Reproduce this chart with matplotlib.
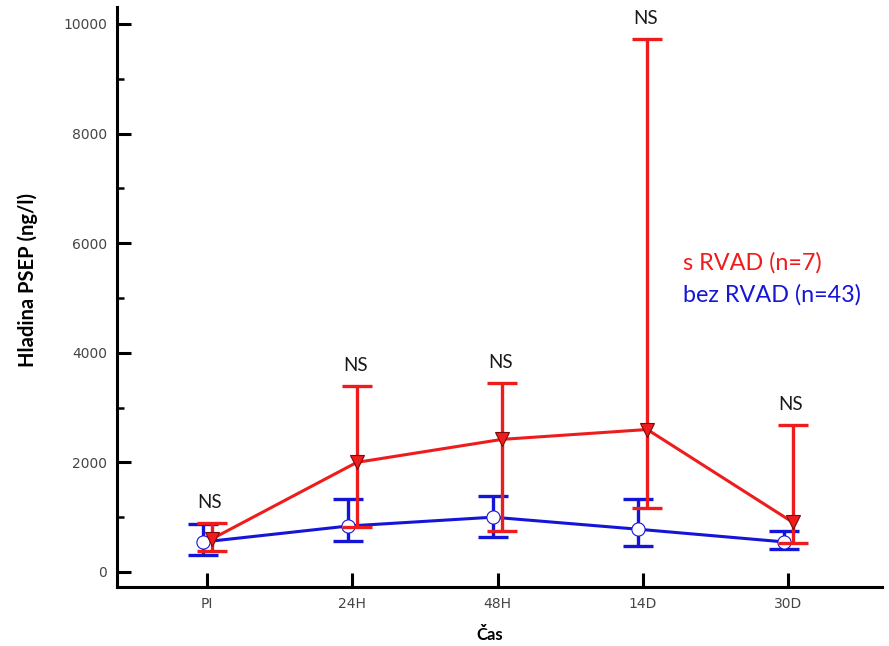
import matplotlib
matplotlib.use("Agg")
import matplotlib.pyplot as plt
import numpy as np

categories = ["PI", "24H", "48H", "14D", "30D"]

# s RVAD (n=7)
red_mean = [600, 2000, 2420, 2600, 910]
red_hi = [893, 3400, 3440, 9727, 2690]
red_lo = [383, 820, 750, 1160, 530]

# bez RVAD (n=43)
blue_mean = [546, 838, 1000, 780, 550]
blue_hi = [874, 1330, 1380, 1330, 750]
blue_lo = [310, 565, 640, 470, 420]

ns_labels = ["NS", "NS", "NS", "NS", "NS"]
legend_labels = ["s RVAD (n=7)", "bez RVAD (n=43)"]
y_ticks = [0, 2000, 4000, 6000, 8000, 10000]

RED = "#ee1c1c"
BLUE = "#1515d8"

fig = plt.figure(figsize=(8.89, 6.46), dpi=100)
ax = fig.add_axes([117/889, 1-587/646, (882-117)/889, (587-7)/646])

x = np.arange(len(categories))
off = 0.031
xb = x - off
xr = x + off

bm = np.array(blue_mean); rm = np.array(red_mean)
b_err = [bm - np.array(blue_lo), np.array(blue_hi) - bm]
r_err = [rm - np.array(red_lo), np.array(red_hi) - rm]

eb_b = ax.errorbar(xb, bm, yerr=b_err, color=BLUE, lw=2.2, elinewidth=2.4,
                   capsize=10.5, marker='o', markersize=9.5,
                   markerfacecolor='white', markeredgecolor=BLUE, markeredgewidth=0.8,
                   zorder=3)
eb_r = ax.errorbar(xr, rm, yerr=r_err, color=RED, lw=2.2, elinewidth=2.4,
                   capsize=10.5, marker='v', markersize=10,
                   markerfacecolor=RED, markeredgecolor="#7a0a0a", markeredgewidth=0.8,
                   zorder=4)
for eb in (eb_b, eb_r):
    for cap in eb[1]:
        cap.set_markeredgewidth(2.4)

for xi, top, lab in zip(x, red_hi, ns_labels):
    ax.text(xi + 0.02, top + 375, lab, ha='center', va='center',
            fontsize=13.5, color='#1a1a1a', family='Lato')

fig.text(683/889, 1-263/646, legend_labels[0], color=RED, fontsize=16.8,
         family='Lato', ha='left', va='center')
fig.text(683/889, 1-295/646, legend_labels[1], color=BLUE, fontsize=16.8,
         family='Lato', ha='left', va='center')

ax.set_xlim(-0.62, 4.647)
ax.set_ylim(-274, 10310)
ax.set_xticks(x)
ax.set_xticklabels(categories)
ax.set_yticks(y_ticks)
ax.set_yticklabels([str(v) for v in y_ticks])
ax.set_yticks(np.arange(1000, 10000, 2000), minor=True)

for s in ["top", "right"]:
    ax.spines[s].set_visible(False)
for s in ["left", "bottom"]:
    ax.spines[s].set_linewidth(2.2)

ax.tick_params(axis='both', which='major', direction='in', length=10, width=2.2,
               labelsize=10, labelcolor='#454545', pad=7)
ax.tick_params(axis='y', which='minor', direction='in', length=5, width=1.8)

fig.text(28/889, 1-280/646, "Hladina PSEP (ng/l)", rotation=90, fontsize=14.5,
         fontweight='bold', family='Lato', ha='center', va='center')
fig.text(490/889, 1-635/646, "Čas", fontsize=12, fontweight='bold',
         family='Lato', ha='center', va='center')

fig.savefig("out.png", dpi=100)
